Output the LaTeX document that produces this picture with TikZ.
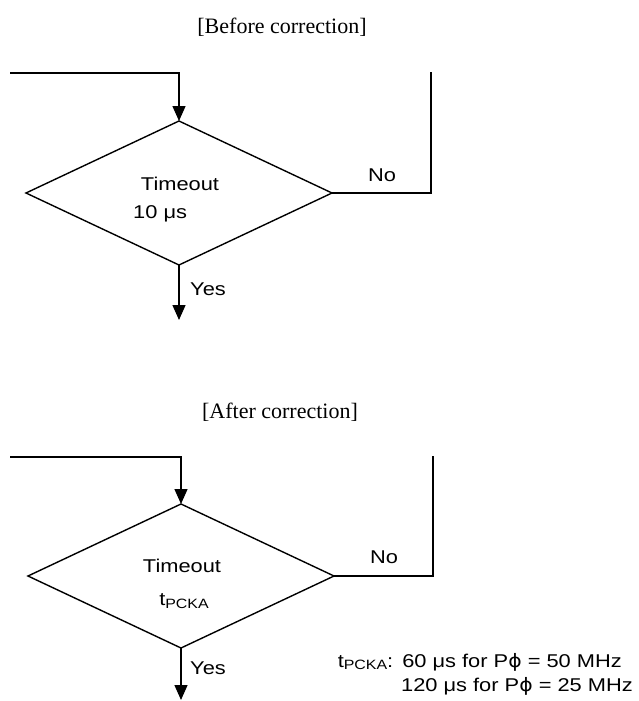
\documentclass[tikz,border=0pt]{standalone}
\usepackage{fontspec}
\setmainfont{Liberation Sans}[FakeStretch=1.18]
\newfontfamily\titlefont{Liberation Serif}
\newfontfamily\greekfont{DejaVu Sans}[FakeStretch=1.1]
\usetikzlibrary{shapes.geometric,arrows.meta}
\newcommand{\tsub}{t\raisebox{-2.5pt}{\fontsize{13.5}{14}\selectfont PCKA}}
\newcommand{\mys}{\char"03BC}
\begin{document}
\begin{tikzpicture}[x=1pt,y=-1pt,
  lbl/.style={inner sep=0pt,font=\fontsize{18.5}{20}\selectfont},
  ttl/.style={inner sep=0pt,font=\titlefont\fontsize{22}{24}\selectfont},
  dia/.style={draw,line width=1.4pt,diamond,minimum width=306pt,minimum height=144pt,inner sep=0pt,outer sep=0pt},
  conn/.style={line width=1.4pt},
  arr/.style={line width=1.4pt,-{Triangle[length=15pt,width=13pt]}}]
\useasboundingbox (0,0) rectangle (638,701);
% top
\node[ttl] (t1) at (282,27) {[Before correction]};
\coordinate (s1) at (10,73);
\coordinate (e1) at (431,72);
\coordinate (y1) at (179,320);
\node[dia] (d1) at (179,193) {};
\draw[arr] (s1) -| (d1.north);
\draw[conn] (d1.east) -| (e1);
\draw[arr] (d1.south) -- (y1);
\node[lbl] (to1) at (180,184) {Timeout};
\node[lbl,anchor=west] (v1) at (133,214) {10 \mys s};
\node[lbl,anchor=west] (n1) at (368,175) {No};
\node[lbl,anchor=west] (ye1) at (190,289) {Yes};
% bottom
\node[ttl] (t2) at (280,412) {[After correction]};
\coordinate (s2) at (10,457);
\coordinate (e2) at (433,456);
\coordinate (y2) at (181,700);
\node[dia] (d2) at (181,576) {};
\draw[arr] (s2) -| (d2.north);
\draw[conn] (d2.east) -| (e2);
\draw[arr] (d2.south) -- (y2);
\node[lbl] (to2) at (182,566) {Timeout};
\node[lbl] (v2) at (184,601) {\tsub};
\node[lbl,anchor=west] (n2) at (370,557) {No};
\node[lbl,anchor=west] (ye2) at (190,668) {Yes};
\node[lbl,anchor=base east] (a1) at (622,667) {\tsub:\hspace{9pt}60 \mys s for P{\greekfont\char"03D5} = 50 MHz};
\node[lbl,anchor=base east] (a2) at (633,691) {120 \mys s for P{\greekfont\char"03D5} = 25 MHz};
\end{tikzpicture}
\end{document}
